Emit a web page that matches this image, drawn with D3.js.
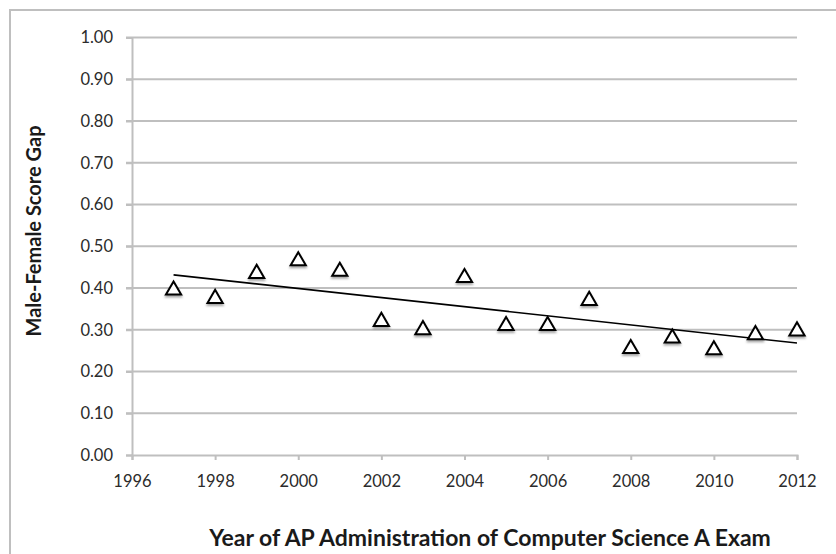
<!DOCTYPE html>
<html>
<head>
<meta charset="utf-8">
<script src="https://cdn.jsdelivr.net/npm/d3@7"></script>
<style>
  body { margin: 0; background: #fff; }
  svg { display: block; font-family: Lato, "Open Sans", sans-serif; }
</style>
</head>
<body>
<svg width="836" height="554"></svg>
<script>
const years = [1997, 1998, 1999, 2000, 2001, 2002, 2003, 2004, 2005, 2006, 2007, 2008, 2009, 2010, 2011, 2012];
const gap = [0.40, 0.38, 0.44, 0.47, 0.445, 0.325, 0.305, 0.43, 0.315, 0.315, 0.375, 0.26, 0.285, 0.257, 0.293, 0.302];
const xTicks = [1996, 1998, 2000, 2002, 2004, 2006, 2008, 2010, 2012];
const yTicks = [0, 0.1, 0.2, 0.3, 0.4, 0.5, 0.6, 0.7, 0.8, 0.9, 1.0];

const svg = d3.select('svg');
const gridCol = '#bfbfbf';

// outer chart border (runs off the right and bottom of the picture)
svg.append('rect')
  .attr('x', 10).attr('y', 10)
  .attr('width', 860).attr('height', 600)
  .attr('fill', 'none')
  .attr('stroke', gridCol)
  .attr('stroke-width', 2);

const x = d3.scaleLinear().domain([1996, 2012]).range([132, 797]);
const y = d3.scaleLinear().domain([0, 1]).range([455, 37.5]);

// grid lines
svg.append('g')
  .selectAll('line')
  .data(yTicks.slice(1))
  .join('line')
  .attr('x1', x(1996) - 6).attr('x2', x(2012))
  .attr('y1', d => y(d)).attr('y2', d => y(d))
  .attr('stroke', gridCol)
  .attr('stroke-width', 2);

// y axis
const yAxis = svg.append('g')
  .attr('transform', `translate(${x(1996)},0)`)
  .call(d3.axisLeft(y).tickValues(yTicks).tickFormat(d3.format('.2f')).tickSize(6).tickPadding(13));

// x axis
const xAxis = svg.append('g')
  .attr('transform', `translate(0,${y(0)})`)
  .call(d3.axisBottom(x).tickValues(xTicks).tickFormat(d3.format('d')).tickSize(5).tickPadding(15));

[yAxis, xAxis].forEach(a => {
  a.attr('font-family', 'Lato, "Open Sans", sans-serif').attr('font-size', 16.5);
  a.select('.domain').attr('stroke', gridCol).attr('stroke-width', 2);
  a.selectAll('.tick line').attr('stroke', gridCol).attr('stroke-width', 2);
  a.selectAll('.tick text').attr('fill', '#2b2b2b');
});

// trend line (least squares fit of the points)
const mx = d3.mean(years), my = d3.mean(gap);
const slope = d3.sum(years, (v, i) => (v - mx) * (gap[i] - my)) / d3.sum(years, v => (v - mx) ** 2);
const fit = v => my + slope * (v - mx);
const ends = [years[0], years[years.length - 1]];
svg.append('line')
  .attr('x1', x(ends[0])).attr('y1', y(fit(ends[0])))
  .attr('x2', x(ends[1])).attr('y2', y(fit(ends[1])))
  .attr('stroke', '#000')
  .attr('stroke-width', 1.6);

// soft shadow under the markers
const defs = svg.append('defs');
const f = defs.append('filter').attr('id', 'shadow').attr('x', '-50%').attr('y', '-50%').attr('width', '200%').attr('height', '200%');
f.append('feDropShadow').attr('dx', 0).attr('dy', 2).attr('stdDeviation', 1.2).attr('flood-color', '#000').attr('flood-opacity', 0.35);

// d3 triangle sits on its centroid, shift so its box is centred on the point
const tri = d3.symbol().type(d3.symbolTriangle).size(100);
svg.append('g')
  .selectAll('path')
  .data(years)
  .join('path')
  .attr('d', tri)
  .attr('transform', (d, i) => `translate(${x(d)},${y(gap[i]) + 2.2})`)
  .attr('fill', '#fff')
  .attr('stroke', '#000')
  .attr('stroke-width', 2)
  .attr('filter', 'url(#shadow)');

// axis titles
svg.append('text')
  .attr('x', 490).attr('y', 546)
  .attr('text-anchor', 'middle')
  .style('font-size', '23px')
  .style('font-weight', 'bold')
  .attr('fill', '#1a1a1a')
  .text('Year of AP Administration of Computer Science A Exam');

svg.append('text')
  .attr('transform', 'translate(41,231) rotate(-90)')
  .attr('text-anchor', 'middle')
  .style('font-size', '20px')
  .style('font-weight', 'bold')
  .attr('fill', '#1a1a1a')
  .text('Male-Female Score Gap');
</script>
</body>
</html>
